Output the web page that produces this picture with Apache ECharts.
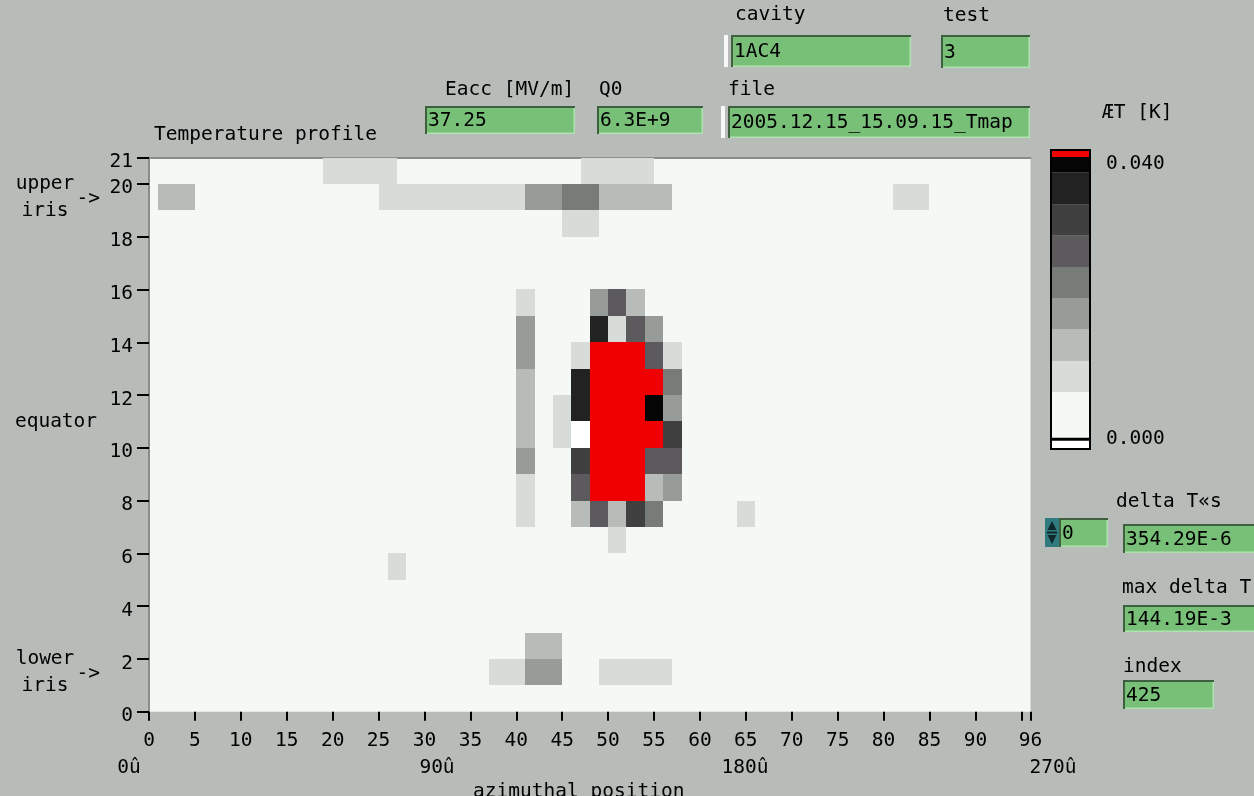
<!DOCTYPE html>
<html>
<head>
<meta charset="utf-8">
<script src="https://cdn.jsdelivr.net/npm/echarts@6/dist/echarts.min.js"></script>
<style>
html,body{margin:0;padding:0;background:#b8bcb8;}
#chart{width:1254px;height:796px;}
</style>
</head>
<body>
<div id="chart"></div>
<script>
// ---------------- data ----------------
// sensor cells: [azimuth start, azimuth end, row, delta T in K]
const cells = [
  [19,23,20,0.009],[23,27,20,0.009],[47,51,20,0.009],[51,55,20,0.009],
  [1,5,19,0.013],[25,29,19,0.009],[29,33,19,0.009],[33,37,19,0.009],[37,41,19,0.009],
  [41,45,19,0.018],[45,49,19,0.022],[49,53,19,0.013],[53,57,19,0.013],[81,85,19,0.009],
  [45,49,18,0.009],
  [40,42,15,0.009],[48,50,15,0.018],[50,52,15,0.027],[52,54,15,0.013],
  [40,42,14,0.018],[48,50,14,0.035],[50,52,14,0.009],[52,54,14,0.027],[54,56,14,0.018],
  [40,42,13,0.018],[46,48,13,0.009],[48,50,13,0.071],[50,52,13,0.082],[52,54,13,0.058],[54,56,13,0.027],[56,58,13,0.009],
  [40,42,12,0.013],[46,48,12,0.035],[48,50,12,0.094],[50,52,12,0.121],[52,54,12,0.088],[54,56,12,0.047],[56,58,12,0.022],
  [40,42,11,0.013],[44,46,11,0.009],[46,48,11,0.035],[48,50,11,0.112],[50,52,11,0.144],[52,54,11,0.097],[54,56,11,0.039],[56,58,11,0.018],
  [40,42,10,0.013],[44,46,10,0.009],[46,48,10,-0.002],[48,50,10,0.103],[50,52,10,0.131],[52,54,10,0.085],[54,56,10,0.044],[56,58,10,0.031],
  [40,42,9,0.018],[46,48,9,0.031],[48,50,9,0.079],[50,52,9,0.098],[52,54,9,0.066],[54,56,9,0.027],[56,58,9,0.027],
  [40,42,8,0.009],[46,48,8,0.027],[48,50,8,0.052],[50,52,8,0.064],[52,54,8,0.049],[54,56,8,0.013],[56,58,8,0.018],
  [40,42,7,0.009],[46,48,7,0.013],[48,50,7,0.027],[50,52,7,0.013],[52,54,7,0.031],[54,56,7,0.022],[64,66,7,0.009],
  [50,52,6,0.009],
  [26,28,5,0.009],
  [41,45,2,0.013],
  [37,41,1,0.009],[41,45,1,0.018],[49,53,1,0.009],[53,57,1,0.009]
];
// colour scale of delta T [K]
const scaleEdges = [0, 0.0067, 0.0111, 0.0156, 0.0200, 0.0244, 0.0289, 0.0333, 0.0378, 0.0400];
const scaleColors = ['#f5f9f5','#d8dcd8','#b8bcb8','#989c98','#787c78','#5c5a5c','#404040','#222222','#050505'];
const underColor = '#ffffff';
const overColor = '#f00000';
const zeroLineColor = '#000000';
const scaleLabelValues = [0, 0.04];
// axes
const xTickValues = [0,5,10,15,20,25,30,35,40,45,50,55,60,65,70,75,80,85,90,95,96];
const xLabelValues = [0,5,10,15,20,25,30,35,40,45,50,55,60,65,70,75,80,85,90,96];
const yLabelValues = [0,2,4,6,8,10,12,14,16,18,20,21];
const degreeValues = [0,90,180,270];
const rowMarkValues = [1.5, 11, 19.5];
const rowMarkTexts = ['lower\niris', 'equator', 'upper\niris'];
const arrowValues = [1.5, 19.5];
// panel fields
const panelFields = {
  cavity: '1AC4', test: '3', eacc: '37.25', q0: '6.3E+9',
  file: '2005.12.15_15.09.15_Tmap', spin: '0',
  deltaTs: '354.29E-6', maxDeltaT: '144.19E-3', index: '425'
};

// ---------------- styles ----------------
const FONT = 'DejaVu Sans Mono';
const FS = 19.5;

// visual pieces built from scale arrays
const pieces = [{lt:0, color:underColor}];
for (let i = 0; i < scaleColors.length; i++) {
  const p = {gte: scaleEdges[i], color: scaleColors[i]};
  if (i < scaleColors.length - 1) p.lt = scaleEdges[i+1]; else p.lte = scaleEdges[i+1];
  pieces.push(p);
}
pieces.push({gt: scaleEdges[scaleEdges.length-1], color: overColor});

// colour bar data: -1 = under, n = over, n+1 = zero line
const barData = [];
for (let i = -1; i <= scaleColors.length + 1; i++) barData.push([i]);

// ---------------- panel graphics ----------------
function label(x, y, text) {
  return {type:'text', x:x, y:y, style:{text:text, fill:'#000', font: FS+'px "'+FONT+'"', verticalAlign:'middle'}};
}
function field(x, y, w, h, text) {
  return [
    {type:'rect', shape:{x:x, y:y, width:w, height:h}, style:{fill:'#78c078'}},
    {type:'polyline', shape:{points:[[x+1,y+h],[x+1,y+1],[x+w,y+1]]}, style:{stroke:'#3f603f', lineWidth:2, fill:'none'}},
    {type:'polyline', shape:{points:[[x+2,y+h-0.75],[x+w-0.75,y+h-0.75],[x+w-0.75,y+2]]}, style:{stroke:'#b0e2b0', lineWidth:1.5, fill:'none'}},
    {type:'text', x:x+3, y:y+h/2+1, style:{text:text, fill:'#000', font: FS+'px "'+FONT+'"', verticalAlign:'middle'}}
  ];
}
const graphics = [].concat(
  label(735, 15, 'cavity'),
  label(943, 16, 'test'),
  label(445, 90, 'Eacc [MV/m]'),
  label(599, 90, 'Q0'),
  label(728, 90, 'file'),
  label(154, 135, 'Temperature profile'),
  label(1102, 113, 'ÆT [K]'),
  label(1116, 502, 'delta T«s'),
  label(1122, 588, 'max delta T'),
  label(1123, 667, 'index'),
  [{type:'rect', shape:{x:724, y:35, width:4, height:32}, style:{fill:'#f8f8f8'}},
   {type:'rect', shape:{x:721, y:106, width:4, height:32}, style:{fill:'#f8f8f8'}}],
  field(731, 35, 180, 32, panelFields.cavity),
  field(941, 35, 89, 33, panelFields.test),
  field(425, 106, 150, 28, panelFields.eacc),
  field(597, 106, 106, 28, panelFields.q0),
  field(728, 106, 302, 32, panelFields.file),
  field(1059, 518, 49, 29, panelFields.spin),
  field(1123, 524, 140, 29, panelFields.deltaTs),
  field(1123, 605, 140, 27, panelFields.maxDeltaT),
  field(1123, 680, 91, 29, panelFields.index),
  [{type:'rect', shape:{x:1045, y:518, width:14, height:29}, style:{fill:'#2f7b80'}},
   {type:'polygon', shape:{points:[[1052,521],[1047.5,530],[1056.5,530]]}, style:{fill:'#10282c'}},
   {type:'polygon', shape:{points:[[1052,544],[1047.5,535],[1056.5,535]]}, style:{fill:'#10282c'}},
   {type:'rect', shape:{x:1047, y:531.5, width:10, height:2}, style:{fill:'#10282c'}}]
);

const hiddenParts = {axisLine:{show:false, onZero:false}, axisTick:{show:false}, axisLabel:{show:false}, splitLine:{show:false}};
const richTxt = (pad) => ({color:'#000', fontFamily:FONT, fontSize:FS, padding:[pad,0,0,0]});

// ---------------- chart ----------------
const chart = echarts.init(document.getElementById('chart'), null, {renderer:'canvas'});
const option = {
  backgroundColor: '#b8bcb8',
  animation: false,
  textStyle: {fontFamily: FONT},
  grid: [
    {left:149, top:157.5, width:881.5, height:554.3, show:true, backgroundColor:'#f5f9f5', borderWidth:0, containLabel:false, outerBoundsMode:'none'},
    {left:1051, top:150, width:39, height:299, show:false, containLabel:false, outerBoundsMode:'none'},
    {left:129, top:745, width:924, height:2, show:false, containLabel:false, outerBoundsMode:'none'}
  ],
  xAxis: [
    {gridIndex:0, type:'value', min:0, max:96, position:'bottom',
     axisLine:{show:false, onZero:false},
     axisTick:{show:true, customValues:xTickValues, length:9, inside:false, lineStyle:{color:'#000', width:2}},
     axisLabel:{show:true, customValues:xLabelValues, margin:19, color:'#000', fontFamily:FONT, fontSize:FS},
     splitLine:{show:false},
     name:'azimuthal position', nameLocation:'middle', nameGap:70,
     nameTextStyle:{color:'#000', fontFamily:FONT, fontSize:FS, padding:[0,22,0,0]}},
    {gridIndex:0, type:'value', min:0, max:96, position:'top',
     axisLine:{show:true, onZero:false, lineStyle:{color:'#8a8e8a', width:2}},
     axisTick:{show:false}, axisLabel:{show:false}, splitLine:{show:false}},
    Object.assign({gridIndex:1, type:'value', min:0, max:1, position:'bottom'}, hiddenParts),
    {gridIndex:2, type:'value', min:0, max:270, position:'bottom',
     axisLine:{show:false, onZero:false}, axisTick:{show:false}, splitLine:{show:false},
     axisLabel:{show:true, customValues:degreeValues, margin:10.5, color:'#000', fontFamily:FONT, fontSize:FS,
       formatter: v => v + 'û'}}
  ],
  yAxis: [
    {gridIndex:0, type:'value', min:0, max:21, position:'left',
     axisLine:{show:true, onZero:false, lineStyle:{color:'#8a8e8a', width:2}},
     axisTick:{show:true, customValues:yLabelValues, length:12, lineStyle:{color:'#000', width:2}},
     axisLabel:{show:true, customValues:yLabelValues, margin:16, color:'#000', fontFamily:FONT, fontSize:FS,
       formatter: v => '{a|' + v + '}', rich:{a:richTxt(9)}},
     splitLine:{show:false}},
    {gridIndex:0, type:'value', min:0, max:21, position:'left',
     axisLine:{show:false, onZero:false}, axisTick:{show:false}, splitLine:{show:false},
     axisLabel:{show:true, customValues:rowMarkValues, margin:104, align:'center',
       color:'#000', fontFamily:FONT, fontSize:FS, lineHeight:27,
       formatter: v => {
         const t = rowMarkTexts[rowMarkValues.indexOf(v)];
         return t === 'equator' ? '{e|' + t + '}' : t;
       },
       rich:{e:{color:'#000', fontFamily:FONT, fontSize:FS, padding:[0,0,0,22]}}}},
    {gridIndex:0, type:'value', min:0, max:21, position:'left', offset:49,
     axisLine:{show:false, onZero:false}, axisTick:{show:false}, splitLine:{show:false},
     axisLabel:{show:true, customValues:arrowValues, margin:0, align:'right', color:'#000', fontFamily:FONT, fontSize:FS,
       formatter: () => '{r|->}', rich:{r:richTxt(4)}}},
    {gridIndex:1, type:'value', min:-0.0014, max:0.041, position:'right',
     axisLine:{show:false, onZero:false}, axisTick:{show:false}, splitLine:{show:false},
     axisLabel:{show:true, customValues:scaleLabelValues, margin:16, color:'#000', fontFamily:FONT, fontSize:FS,
       formatter: v => v > 0 ? '{t|' + v.toFixed(3) + '}' : v.toFixed(3),
       rich:{t:richTxt(14)}}},
    Object.assign({gridIndex:2, type:'value', min:0, max:1, position:'left'}, hiddenParts)
  ],
  visualMap: {
    type:'piecewise', show:false, seriesIndex:0, dimension:3, pieces:pieces
  },
  series: [
    {
      type:'custom', xAxisIndex:0, yAxisIndex:0, data:cells,
      encode:{x:[0,1], y:2},
      renderItem: (params, api) => {
        const a = api.coord([api.value(0), api.value(2) + 1]);
        const b = api.coord([api.value(1), api.value(2)]);
        const x = Math.round(a[0]), y = Math.round(a[1]);
        return {type:'rect',
          shape:{x:x, y:y, width:Math.round(b[0]) - x, height:Math.round(b[1]) - y},
          style:{fill: api.visual('color')}};
      }
    },
    {
      type:'custom', xAxisIndex:2, yAxisIndex:3, data:barData,
      encode:{y:0},
      renderItem: (params, api) => {
        const i = api.value(0);
        const cs = params.coordSys;
        const n = scaleColors.length;
        let top, bottom, color;
        if (i < 0) { top = api.coord([0, scaleEdges[0]])[1]; bottom = cs.y + cs.height; color = underColor; }
        else if (i === n) { top = cs.y; bottom = api.coord([0, scaleEdges[n]])[1]; color = overColor; }
        else if (i > n) { const c = api.coord([0, scaleEdges[0]])[1]; top = c - 1.5; bottom = c + 1.5; color = zeroLineColor; }
        else { top = api.coord([0, scaleEdges[i+1]])[1]; bottom = api.coord([0, scaleEdges[i]])[1]; color = scaleColors[i]; }
        return {type:'rect', shape:{x:cs.x, y:top, width:cs.width, height:bottom-top}, style:{fill:color}};
      }
    },
    {
      type:'custom', xAxisIndex:2, yAxisIndex:3, data:[[0]], z:5,
      renderItem: (params, api) => {
        const cs = params.coordSys;
        return {type:'rect', shape:{x:cs.x, y:cs.y, width:cs.width, height:cs.height},
          style:{fill:'none', stroke:'#000', lineWidth:2}};
      }
    }
  ],
  graphic: graphics
};
try {
  chart.setOption(option);
} catch (e) {
  const d = document.createElement('pre');
  d.style.cssText = 'position:absolute;left:200px;top:250px;font:11px monospace;color:#c00;background:#fff;z-index:9;max-width:800px;white-space:pre-wrap';
  d.textContent = String(e && e.stack || e);
  document.body.appendChild(d);
}
</script>
</body>
</html>
